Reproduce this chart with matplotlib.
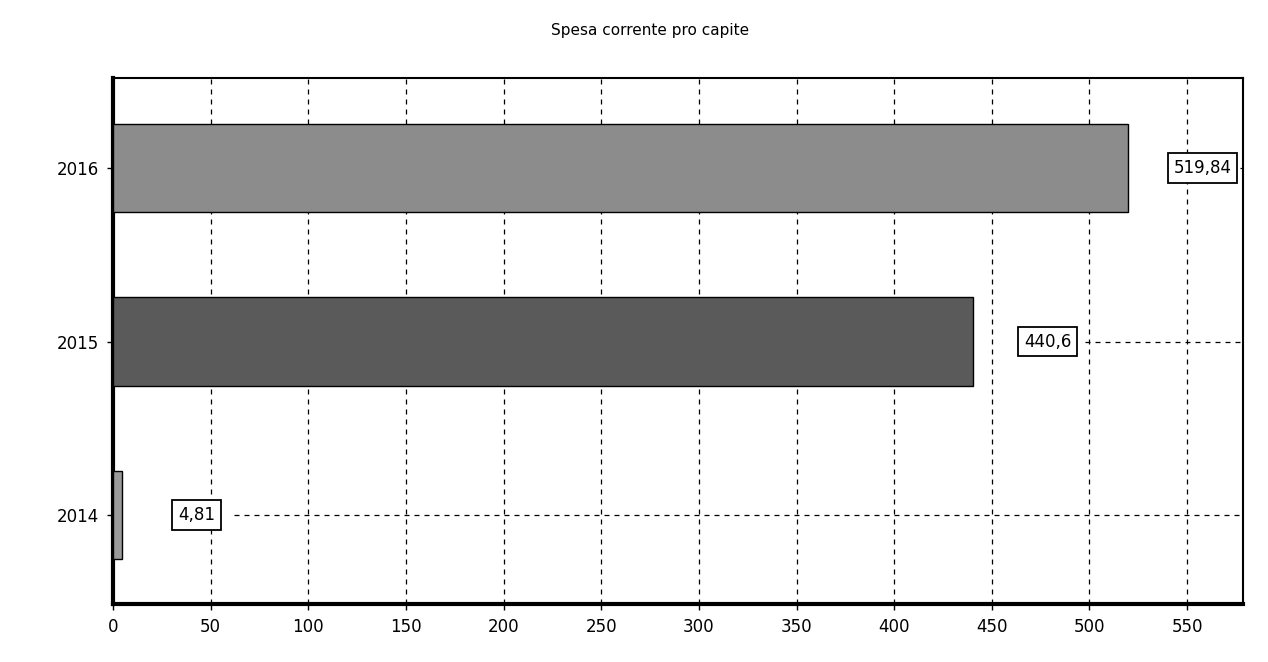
import matplotlib
matplotlib.use("Agg")
import matplotlib.pyplot as plt

years = ["2014", "2015", "2016"]
values = [4.81, 440.6, 519.84]
value_labels = ["4,81", "440,6", "519,84"]
bar_colors = ["#9a9a9a", "#5a5a5a", "#8c8c8c"]
xticks = [0, 50, 100, 150, 200, 250, 300, 350, 400, 450, 500, 550]
title = "Spesa corrente pro capite"

plt.rcParams['font.family'] = ['DejaVu Sans']
fig = plt.figure(figsize=(12.68, 6.62), dpi=100)
ax = fig.add_axes([113/1268, 1-604/662, (1243-113)/1268, (604-78)/662])

pos = list(range(len(years)))
ax.barh(pos, values, height=0.51, color=bar_colors, edgecolor="black", linewidth=1, zorder=3)

ax.set_xlim(0, 578.6)
ax.set_ylim(-0.513, 2.519)
ax.set_xticks(xticks)
ax.set_xticklabels([str(t) for t in xticks], fontsize=12)
ax.set_yticks(pos)
ax.set_yticklabels(years, fontsize=12)
ax.tick_params(axis="both", direction="out", length=4, width=1, pad=6)

for x in xticks[1:]:
    ax.axvline(x, color="black", linestyle=(0, (4, 4)), linewidth=0.9, zorder=1)

for p, v, lab in zip(pos, values, value_labels):
    xl = v + 38
    ax.text(xl, p, lab, ha="center", va="center", fontsize=12, zorder=5,
            bbox=dict(boxstyle="square,pad=0.35", facecolor="white", edgecolor="black", linewidth=1.3))
    ax.plot([xl + 19, 578.6], [p, p], color="black", linestyle=(0, (4, 4)), linewidth=0.9, zorder=2)

for side in ["left", "bottom"]:
    ax.spines[side].set_linewidth(3)
for side in ["right", "top"]:
    ax.spines[side].set_linewidth(1.5)

fig.text(650/1268, 1-30/662, title, ha="center", va="center", fontsize=11)

fig.savefig("out.png", dpi=100, facecolor="white")
